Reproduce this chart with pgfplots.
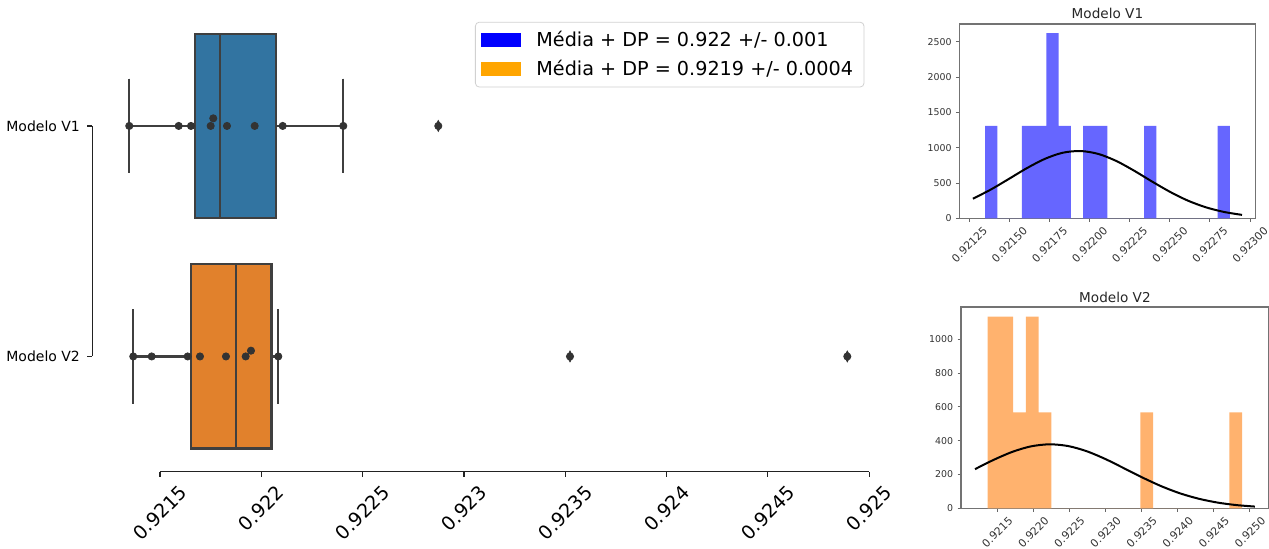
\documentclass[border=0pt]{standalone}
\usepackage{pgfplots}
\pgfplotsset{compat=1.18}
\usepgfplotslibrary{statistics}
\usepackage{fontspec}
\setmainfont{DejaVu Sans}
\definecolor{boxblue}{HTML}{3274A1}
\definecolor{boxorange}{HTML}{E1812C}
\definecolor{boxedge}{HTML}{3F3F3F}
\definecolor{swarm}{HTML}{333333}
\definecolor{histblue}{HTML}{6666FF}
\definecolor{historange}{HTML}{FFB26E}
\definecolor{legorange}{HTML}{FFA500}
\definecolor{spine}{HTML}{222222}
\begin{document}
\begin{tikzpicture}
\path[use as bounding box] (0pt,0pt) rectangle (634.5pt,274.5pt);
% ---------------- main box plot ----------------
\begin{axis}[
  at={(46.25pt,269.15pt)}, anchor=north west,
  scale only axis, width=400.5pt, height=230.5pt,
  xmin=0.921167, xmax=0.92512,
  ymin=-0.5, ymax=1.5, y dir=reverse,
  axis x line*=bottom, axis y line*=left,
  axis line style={draw=none},
  tick align=outside,
  major tick length=2.6pt,
  scaled x ticks=false,
  xtick={0.9215,0.922,0.9225,0.923,0.9235,0.924,0.9245,0.925},
  xticklabels={\rotatebox{45}{0.9215},\rotatebox{45}{0.922},\rotatebox{45}{0.9225},\rotatebox{45}{0.923},\rotatebox{45}{0.9235},\rotatebox{45}{0.924},\rotatebox{45}{0.9245},\rotatebox{45}{0.925}},
  ytick={0,1}, yticklabels={Modelo V1,Modelo V2},
  tick style={spine, line width=0.6pt},
  xticklabel style={anchor=north, inner sep=0pt, font=\fontsize{9.5}{11}\selectfont, yshift=-3.5pt},
  yticklabel style={anchor=east, inner sep=0pt, font=\fontsize{7}{8}\selectfont, xshift=-3.5pt},
  boxplot/draw direction=x,
  clip=false,
  legend cell align=left,
  legend style={at={(0.4775,0.976)}, anchor=north west, font=\fontsize{9.6}{11.5}\selectfont,
    draw=black!18, rounded corners=2pt, inner xsep=3pt, inner ysep=1.8pt, row sep=0.5pt,
    nodes={inner sep=2.5pt}},
]
\addlegendimage{legend image code/.code={\fill[blue, sharp corners, draw=none] (0pt,-3.5pt) rectangle (20pt,3.5pt); \path[draw=none] (0pt,0pt) -- (25pt,0pt);}}
\addlegendentry{Média + DP = 0.922 +/- 0.001}
\addlegendimage{legend image code/.code={\fill[legorange, sharp corners, draw=none] (0pt,-3.5pt) rectangle (20pt,3.5pt); \path[draw=none] (0pt,0pt) -- (25pt,0pt);}}
\addlegendentry{Média + DP = 0.9219 +/- 0.0004}

\addplot[forget plot, boxplot prepared={lower whisker=0.9213485, lower quartile=0.9216727, median=0.9217961,
  upper quartile=0.9220725, upper whisker=0.9224046, draw position=0, box extend=0.8, whisker extend=0.41},
  fill=boxblue, draw=boxedge, line width=1.2pt] coordinates {};
\addplot[forget plot, boxplot prepared={lower whisker=0.9213682, lower quartile=0.9216519, median=0.9218744,
  upper quartile=0.9220501, upper whisker=0.9220838, draw position=1, box extend=0.8, whisker extend=0.41},
  fill=boxorange, draw=boxedge, line width=1.2pt] coordinates {};

% swarm points
\addplot[forget plot, only marks, mark=*, mark size=1.8pt, color=swarm] coordinates {
 (0.9213485,0) (0.9215923,0) (0.921653,0) (0.9217502,0) (0.921763,-0.033)
 (0.9218307,0) (0.9219674,0) (0.9221056,0) (0.9224046,0) (0.9228735,0)};
\addplot[forget plot, only marks, mark=*, mark size=1.8pt, color=swarm] coordinates {
 (0.9213682,1) (0.921459,1) (0.9216367,1) (0.9216974,1) (0.9218257,1)
 (0.921923,1) (0.9219491,0.975) (0.9220838,1) (0.9235235,1) (0.924892,1)};
% outliers
\addplot[forget plot, only marks, mark=diamond*, mark size=2.7pt, color=swarm, mark options={xscale=0.7}] coordinates {
 (0.9228735,0) (0.9235235,1) (0.924892,1)};

% trimmed spines
\draw[spine, line width=0.6pt] (axis cs:0.9215,1.5) -- (axis cs:0.925,1.5);
\draw[spine, line width=0.6pt] (axis cs:0.921167,0) -- (axis cs:0.921167,1);
\end{axis}

% ---------------- histogram V1 ----------------
\begin{axis}[
  at={(479.7pt,262.5pt)}, anchor=north west,
  scale only axis, width=148.05pt, height=97.15pt,
  xmin=0.921188, xmax=0.923034, ymin=0, ymax=2754,
  axis line style={black!55, line width=0.6pt},
  tick align=outside, tick pos=left,
  major tick length=1.75pt,
  tick style={black!60, line width=0.5pt},
  scaled x ticks=false, scaled y ticks=false,
  xtick={0.92125,0.9215,0.92175,0.922,0.92225,0.9225,0.92275,0.923},
  xticklabels={\rotatebox{45}{0.92125},\rotatebox{45}{0.92150},\rotatebox{45}{0.92175},\rotatebox{45}{0.92200},\rotatebox{45}{0.92225},\rotatebox{45}{0.92250},\rotatebox{45}{0.92275},\rotatebox{45}{0.92300}},
  ytick={0,500,1000,1500,2000,2500},
  yticklabels={0,500,1000,1500,2000,2500},
  xticklabel style={anchor=north, inner sep=0pt, font=\fontsize{5.4}{6}\selectfont, text=black!80, yshift=-1.8pt},
  yticklabel style={anchor=east, inner sep=0pt, font=\fontsize{4.7}{5}\selectfont, text=black!80, xshift=-2pt},
  every axis title shift=0pt,
  title={Modelo V1},
  title style={at={(0.5,1)}, anchor=base, yshift=2.9pt, inner sep=0pt, font=\fontsize{6.8}{8}\selectfont, text=black!85},
]
\addplot[const plot, fill=histblue, draw=none] coordinates {
 (0.9213485,1311) (0.9214248,0) (0.921501,0) (0.9215773,1311) (0.9216535,1311)
 (0.9217298,2623) (0.921806,1311) (0.9218823,0) (0.9219585,1311) (0.9220348,1311)
 (0.922111,0) (0.9221873,0) (0.9222635,0) (0.9223398,1311) (0.922416,0)
 (0.9224923,0) (0.9225685,0) (0.9226448,0) (0.922721,0) (0.9227973,1311)
 (0.9228735,0)} \closedcycle;
\addplot[smooth, black, line width=1pt] coordinates {
 (0.921272,277.4) (0.921384,407.5) (0.921496,557.5) (0.921608,709.9) (0.92172,841.3)
 (0.921831,928.4) (0.921943,953.5) (0.922055,911.5) (0.922167,811.3) (0.922279,672.1)
 (0.922391,518.4) (0.922503,372.2) (0.922614,248.7) (0.922726,154.7) (0.922838,89.6)
 (0.92295,48.3)};
\end{axis}

% ---------------- histogram V2 ----------------
\begin{axis}[
  at={(480.5pt,121pt)}, anchor=north west,
  scale only axis, width=153.95pt, height=100.65pt,
  xmin=0.920998, xmax=0.925262, ymin=0, ymax=1192,
  axis line style={black!55, line width=0.6pt},
  tick align=outside, tick pos=left,
  major tick length=1.75pt,
  tick style={black!60, line width=0.5pt},
  scaled x ticks=false, scaled y ticks=false,
  xtick={0.9215,0.922,0.9225,0.923,0.9235,0.924,0.9245,0.925},
  xticklabels={\rotatebox{45}{0.9215},\rotatebox{45}{0.9220},\rotatebox{45}{0.9225},\rotatebox{45}{0.9230},\rotatebox{45}{0.9235},\rotatebox{45}{0.9240},\rotatebox{45}{0.9245},\rotatebox{45}{0.9250}},
  ytick={0,200,400,600,800,1000},
  yticklabels={0,200,400,600,800,1000},
  xticklabel style={anchor=north, inner sep=0pt, font=\fontsize{5.4}{6}\selectfont, text=black!80, yshift=-1.8pt},
  yticklabel style={anchor=east, inner sep=0pt, font=\fontsize{4.7}{5}\selectfont, text=black!80, xshift=-2pt},
  every axis title shift=0pt,
  title={Modelo V2},
  title style={at={(0.5,1)}, anchor=base, yshift=2.2pt, inner sep=0pt, font=\fontsize{6.8}{8}\selectfont, text=black!85},
]
\addplot[const plot, fill=historange, draw=none] coordinates {
 (0.9213682,1135) (0.9215444,1135) (0.9217206,568) (0.9218968,1135) (0.922073,568)
 (0.9222492,0) (0.9224253,0) (0.9226015,0) (0.9227777,0) (0.9229539,0)
 (0.9231301,0) (0.9233063,0) (0.9234825,568) (0.9236587,0) (0.9238349,0)
 (0.9240111,0) (0.9241872,0) (0.9243634,0) (0.9245396,0) (0.9247158,568)
 (0.924892,0)} \closedcycle;
\addplot[smooth, black, line width=1pt] coordinates {
 (0.921192,231.8) (0.92145,286.8) (0.921709,334.2) (0.921967,366.7) (0.922226,378.8)
 (0.922484,368.4) (0.922742,337.4) (0.923001,291.0) (0.923259,236.2) (0.923518,180.6)
 (0.923776,130.0) (0.924034,88.1) (0.924293,56.3) (0.924551,33.8) (0.92481,19.1)
 (0.925068,10.2)};
\end{axis}
\end{tikzpicture}
\end{document}
